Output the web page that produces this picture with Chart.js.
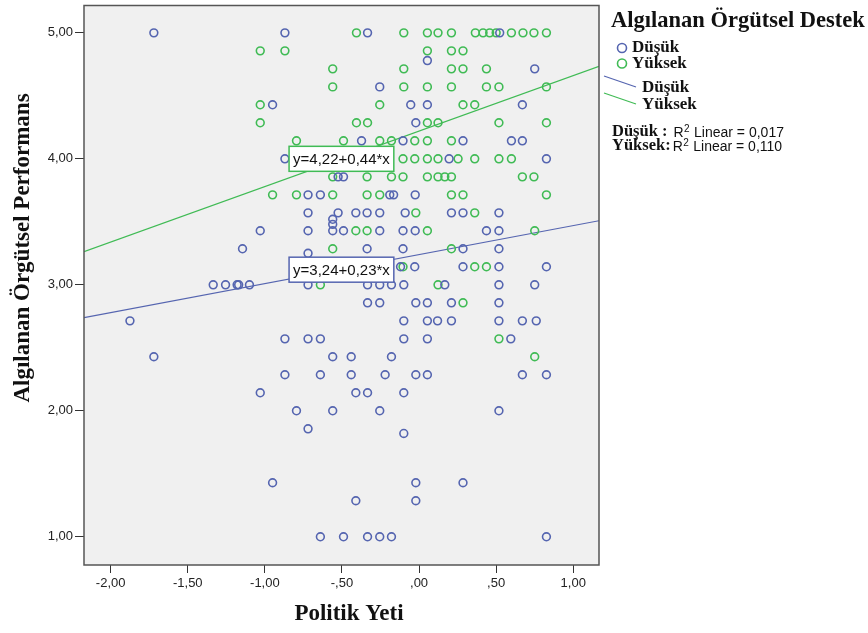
<!DOCTYPE html>
<html>
<head>
<meta charset="utf-8">
<script src="https://cdn.jsdelivr.net/npm/chart.js@4/dist/chart.umd.min.js"></script>
<style>
  html, body { margin: 0; padding: 0; background: #fff; }
  #wrap { width: 868px; height: 633px; }
</style>
</head>
<body>
<div id="wrap"><canvas id="scatter" width="868" height="633"></canvas></div>
<script>
/* ── Datos ── */
const GROUPS = ['Düşük', 'Yüksek'];

// [Politik Yeti, Algılanan Örgütsel Performans]
const DUSUK_POINTS = [
  [-1.72, 5.00], [-0.87, 5.00], [-0.334, 5.00], [0.523, 5.00],
  [0.054, 4.78], [0.75, 4.714], [-0.255, 4.571],
  [-0.95, 4.429], [-0.054, 4.429], [0.054, 4.429], [0.67, 4.429],
  [-0.021, 4.286],
  [-0.373, 4.143], [-0.104, 4.143], [0.285, 4.143], [0.599, 4.143], [0.67, 4.143],
  [-0.87, 4.0], [0.195, 4.0], [0.826, 4.0],
  [-0.525, 3.857], [-0.49, 3.857],
  [-0.72, 3.714], [-0.64, 3.714], [-0.19, 3.714], [-0.165, 3.714], [-0.025, 3.714],
  [-0.72, 3.571], [-0.525, 3.571], [-0.41, 3.571], [-0.337, 3.571], [-0.255, 3.571],
  [-0.09, 3.571], [0.21, 3.571], [0.285, 3.571], [0.518, 3.571],
  [-0.56, 3.52], [-0.56, 3.48],
  [-1.03, 3.429], [-0.72, 3.429], [-0.56, 3.429], [-0.49, 3.429], [-0.255, 3.429],
  [-0.104, 3.429], [-0.025, 3.429], [0.437, 3.429], [0.518, 3.429],
  [-1.145, 3.286], [-0.337, 3.286], [-0.104, 3.286], [0.285, 3.286], [0.518, 3.286],
  [-0.72, 3.25],
  [-0.12, 3.143], [-0.028, 3.143], [0.285, 3.143], [0.518, 3.143], [0.826, 3.143],
  [-1.335, 3.0], [-1.255, 3.0], [-1.18, 3.0], [-1.17, 3.0], [-1.10, 3.0], [-0.72, 3.0],
  [-0.334, 3.0], [-0.255, 3.0], [-0.179, 3.0], [-0.099, 3.0], [0.167, 3.0], [0.518, 3.0], [0.75, 3.0],
  [-0.334, 2.857], [-0.255, 2.857], [-0.021, 2.857], [0.054, 2.857], [0.21, 2.857], [0.518, 2.857],
  [-1.875, 2.714], [-0.099, 2.714], [0.054, 2.714], [0.12, 2.714], [0.21, 2.714],
  [0.518, 2.714], [0.67, 2.714], [0.76, 2.714],
  [-0.87, 2.571], [-0.72, 2.571], [-0.64, 2.571], [-0.099, 2.571], [0.054, 2.571], [0.595, 2.571],
  [-1.72, 2.429], [-0.56, 2.429], [-0.44, 2.429], [-0.179, 2.429],
  [-0.87, 2.286], [-0.64, 2.286], [-0.44, 2.286], [-0.22, 2.286], [-0.021, 2.286],
  [0.054, 2.286], [0.67, 2.286], [0.826, 2.286],
  [-1.03, 2.143], [-0.41, 2.143], [-0.334, 2.143], [-0.099, 2.143],
  [-0.795, 2.0], [-0.56, 2.0], [-0.255, 2.0], [0.518, 2.0],
  [-0.72, 1.857], [-0.099, 1.82],
  [-0.95, 1.429], [-0.021, 1.429], [0.285, 1.429],
  [-0.41, 1.286], [-0.021, 1.286],
  [-0.64, 1.0], [-0.49, 1.0], [-0.334, 1.0], [-0.255, 1.0], [-0.179, 1.0], [0.826, 1.0],
];

const YUKSEK_POINTS = [
  [-0.406, 5.00], [-0.099, 5.00], [0.054, 5.00], [0.123, 5.00], [0.21, 5.00], [0.365, 5.00],
  [0.415, 5.00], [0.458, 5.00], [0.50, 5.00], [0.599, 5.00], [0.674, 5.00], [0.745, 5.00], [0.826, 5.00],
  [-1.03, 4.857], [-0.87, 4.857], [0.054, 4.857], [0.21, 4.857], [0.285, 4.857],
  [-0.56, 4.714], [-0.099, 4.714], [0.21, 4.714], [0.285, 4.714], [0.437, 4.714],
  [-0.56, 4.571], [-0.099, 4.571], [0.054, 4.571], [0.21, 4.571], [0.437, 4.571], [0.518, 4.571], [0.826, 4.571],
  [-1.03, 4.429], [-0.255, 4.429], [0.285, 4.429], [0.361, 4.429],
  [-1.03, 4.286], [-0.406, 4.286], [-0.334, 4.286], [0.054, 4.286], [0.123, 4.286], [0.518, 4.286], [0.826, 4.286],
  [-0.795, 4.143], [-0.49, 4.143], [-0.255, 4.143], [-0.179, 4.143], [-0.028, 4.143], [0.054, 4.143], [0.21, 4.143],
  [-0.104, 4.0], [-0.028, 4.0], [0.054, 4.0], [0.123, 4.0], [0.253, 4.0], [0.361, 4.0], [0.518, 4.0], [0.599, 4.0],
  [-0.56, 3.857], [-0.337, 3.857], [-0.179, 3.857], [-0.104, 3.857], [0.054, 3.857], [0.123, 3.857],
  [0.167, 3.857], [0.21, 3.857], [0.67, 3.857], [0.745, 3.857],
  [-0.95, 3.714], [-0.795, 3.714], [-0.56, 3.714], [-0.337, 3.714], [-0.255, 3.714], [0.21, 3.714], [0.285, 3.714], [0.826, 3.714],
  [-0.021, 3.571], [0.361, 3.571],
  [-0.41, 3.429], [-0.337, 3.429], [0.054, 3.429], [0.75, 3.429],
  [-0.56, 3.286], [0.21, 3.286],
  [-0.104, 3.143], [0.361, 3.143], [0.437, 3.143],
  [-0.64, 3.0], [0.123, 3.0],
  [0.285, 2.857], [0.518, 2.571], [0.75, 2.429],
];

// Doğrusal uyum: y = a + b*x
const FIT_INTERCEPT = [3.24, 4.22];
const FIT_SLOPE     = [0.23, 0.44];
const FIT_R2        = ['0,017', '0,110'];
const FIT_LABELS    = ['y=3,24+0,23*x', 'y=4,22+0,44*x'];

const X_TICKS = [-2, -1.5, -1, -0.5, 0, 0.5, 1];
const Y_TICKS = [1, 2, 3, 4, 5];

const X_MIN = -2.173, X_MAX = 1.167;
const Y_MIN = 0.776,  Y_MAX = 5.217;

const BLUE  = '#5565b0';
const GREEN = '#40bb55';
const COLORS = [BLUE, GREEN];
const SERIF = '"Liberation Serif", "Times New Roman", serif';
const SANS  = '"Liberation Sans", Arial, sans-serif';

/* ── Utilidades ── */
function fmtTick(v) {
  let s = Math.abs(v).toFixed(2).replace('.', ',');
  if (s.startsWith('0,')) s = s.slice(1);
  return (v < 0 ? '-' : '') + s;
}

function toXY(arr) {
  return arr.map(p => ({ x: p[0], y: p[1] }));
}

function fitLine(i) {
  return [X_MIN, X_MAX].map(x => ({ x: x, y: FIT_INTERCEPT[i] + FIT_SLOPE[i] * x }));
}

/* ── Plugins ── */
const frame = {
  id: 'frame',
  beforeDraw(chart) {
    const { ctx, chartArea: a } = chart;
    ctx.save();
    ctx.fillStyle = '#fff';
    ctx.fillRect(0, 0, chart.width, chart.height);
    ctx.fillStyle = '#f0f0f0';
    ctx.fillRect(a.left, a.top, a.right - a.left, a.bottom - a.top);
    ctx.restore();
  },
  afterDraw(chart) {
    const { ctx, chartArea: a } = chart;
    ctx.save();
    ctx.strokeStyle = '#555';
    ctx.lineWidth = 1.5;
    ctx.strokeRect(a.left, a.top, a.right - a.left, a.bottom - a.top);
    ctx.restore();
  },
};

// cajas de ecuación (ancla en unidades de datos)
const LABEL_ANCHOR = [[-0.843, 3.12], [-0.843, 4.0]];

const fitLabels = {
  id: 'fitLabels',
  afterDatasetsDraw(chart) {
    const { ctx, scales: { x, y } } = chart;
    ctx.save();
    ctx.font = '15px ' + SANS;
    ctx.textBaseline = 'middle';
    FIT_LABELS.forEach((txt, i) => {
      const px = x.getPixelForValue(LABEL_ANCHOR[i][0]);
      const py = y.getPixelForValue(LABEL_ANCHOR[i][1]);
      const w = ctx.measureText(txt).width + 8;
      ctx.fillStyle = '#fff';
      ctx.fillRect(px, py - 12.5, w, 25);
      ctx.strokeStyle = COLORS[i];
      ctx.lineWidth = 1.5;
      ctx.strokeRect(px, py - 12.5, w, 25);
      ctx.fillStyle = '#111';
      ctx.fillText(txt, px + 4, py + 1);
    });
    ctx.restore();
  },
};

const texts = {
  id: 'texts',
  afterDraw(chart) {
    const { ctx } = chart;
    ctx.save();
    ctx.fillStyle = '#111';

    // títulos de ejes
    ctx.font = 'bold 23px ' + SERIF;
    ctx.textAlign = 'center';
    ctx.textBaseline = 'middle';
    ctx.fillText('Politik Yeti', 349, 614);
    ctx.save();
    ctx.translate(23, 248);
    ctx.rotate(-Math.PI / 2);
    ctx.fillText('Algılanan Örgütsel Performans', 0, 0);
    ctx.restore();

    // leyenda
    ctx.textAlign = 'left';
    ctx.font = 'bold 22.5px ' + SERIF;
    ctx.fillText('Algılanan Örgütsel Destek', 611, 21);
    ctx.font = 'bold 17px ' + SERIF;
    GROUPS.forEach((g, i) => {
      const yy = 48 + i * 15.5;
      ctx.beginPath();
      ctx.arc(622, yy, 4.5, 0, Math.PI * 2);
      ctx.strokeStyle = COLORS[i];
      ctx.lineWidth = 1.6;
      ctx.stroke();
      ctx.fillStyle = '#111';
      ctx.fillText(g, 632, yy);

      const ly = 88 + i * 17;
      ctx.beginPath();
      ctx.moveTo(604, ly - 12);
      ctx.lineTo(636, ly - 1);
      ctx.strokeStyle = COLORS[i];
      ctx.lineWidth = 1.2;
      ctx.stroke();
      ctx.fillText(g, 642, ly);
    });

    // R²
    GROUPS.forEach((g, i) => {
      const yy = 132 + i * 14;
      ctx.font = 'bold 16.5px ' + SERIF;
      ctx.fillStyle = '#111';
      const lead = i === 0 ? g + ' :' : g + ':';
      ctx.fillText(lead, 612, yy);
      let xx = 612 + ctx.measureText(lead).width + (i === 0 ? 6 : 2);
      ctx.font = '14px ' + SANS;
      ctx.fillText('R', xx, yy + 1);
      xx += ctx.measureText('R').width;
      ctx.font = '10px ' + SANS;
      ctx.fillText('2', xx + 0.5, yy - 3);
      xx += ctx.measureText('2').width + 1;
      ctx.font = '14px ' + SANS;
      ctx.fillText(' Linear = ' + FIT_R2[i], xx, yy + 1);
    });
    ctx.restore();
  },
};

/* ── Gráfico ── */
function initScatter() {
  const pointStyle = (c) => ({
    type: 'scatter',
    backgroundColor: 'rgba(0,0,0,0)',
    borderColor: c,
    borderWidth: 1.6,
    pointRadius: 3.9,
    pointHoverRadius: 3.9,
  });

  new Chart(document.getElementById('scatter'), {
    type: 'scatter',
    data: {
      datasets: [
        { label: 'Düşük fit',  type: 'line', data: fitLine(0), borderColor: BLUE,  borderWidth: 1.2, pointRadius: 0, fill: false, order: 3 },
        { label: 'Yüksek fit', type: 'line', data: fitLine(1), borderColor: GREEN, borderWidth: 1.2, pointRadius: 0, fill: false, order: 3 },
        Object.assign({ label: GROUPS[0], data: toXY(DUSUK_POINTS),  order: 1 }, pointStyle(BLUE)),
        Object.assign({ label: GROUPS[1], data: toXY(YUKSEK_POINTS), order: 2 }, pointStyle(GREEN)),
      ],
    },
    options: {
      responsive: false,
      animation: false,
      devicePixelRatio: 1,
      layout: { padding: { left: 0, top: 3, right: 269, bottom: 0 } },
      plugins: { legend: { display: false }, tooltip: { enabled: false } },
      scales: {
        x: {
          type: 'linear',
          min: X_MIN, max: X_MAX,
          afterBuildTicks: s => { s.ticks = X_TICKS.map(v => ({ value: v })); },
          afterFit: s => { s.height = 68; s.paddingLeft = 0; s.paddingRight = 0; },
          ticks: { callback: fmtTick, color: '#222', font: { family: SANS, size: 13 }, padding: 3, maxRotation: 0 },
          grid: { drawOnChartArea: false, drawTicks: true, tickLength: 8, color: '#333' },
          border: { display: false },
        },
        y: {
          type: 'linear',
          min: Y_MIN, max: Y_MAX,
          afterBuildTicks: s => { s.ticks = Y_TICKS.map(v => ({ value: v })); },
          afterFit: s => { s.width = 84; s.paddingTop = 0; s.paddingBottom = 0; },
          ticks: { callback: fmtTick, color: '#222', font: { family: SANS, size: 13 }, padding: 2 },
          grid: { drawOnChartArea: false, drawTicks: true, tickLength: 9, color: '#333' },
          border: { display: false },
        },
      },
    },
    plugins: [frame, fitLabels, texts],
  });
}

/* ── Init ── */
document.addEventListener('DOMContentLoaded', initScatter);
</script>
</body>
</html>
